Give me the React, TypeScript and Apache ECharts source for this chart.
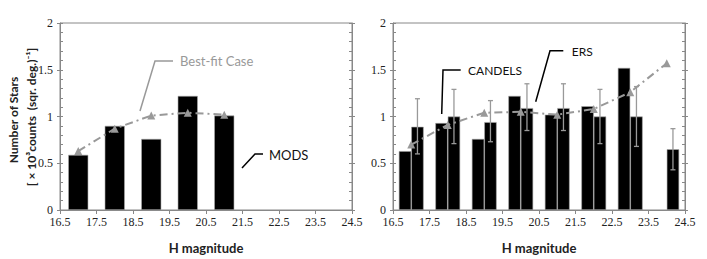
import React, { useEffect, useRef } from "react";
import * as echarts from "echarts";

const categories = ["17", "18", "19", "20", "21", "22", "23", "24"];
const xTickLabels = ["16.5", "17.5", "18.5", "19.5", "20.5", "21.5", "22.5", "23.5", "24.5"];

const modsValues = [0.59, 0.9, 0.76, 1.22, 1.01, null, null, null];
const modsFit = [0.63, 0.87, 1.01, 1.04, 1.02, null, null, null];

const candelsValues = [0.63, 0.93, 0.76, 1.22, 1.02, 1.11, 1.52, null];
const ersValues = [0.89, 1.0, 0.94, 1.09, 1.09, 1.0, 1.0, 0.65];
const ersLow = [0.6, 0.71, 0.73, 0.85, 0.85, 0.71, 0.68, 0.43];
const ersHigh = [1.19, 1.29, 1.17, 1.35, 1.35, 1.29, 1.32, 0.87];
const combinedFit = [0.7, 0.91, 1.04, 1.05, 1.02, 1.08, 1.26, 1.57];

const GRAY = "#888";
const SERIF = "Liberation Serif";
const SANS = "Lato";

function xAxes(g: number) {
  return [
    { gridIndex: g, type: "category", position: "bottom", data: categories, boundaryGap: true, show: false },
    {
      gridIndex: g,
      type: "value",
      position: "bottom",
      min: 0,
      max: 8,
      interval: 1,
      axisLine: { show: true, lineStyle: { color: GRAY, width: 1 } },
      axisTick: { show: true, length: 4, lineStyle: { color: GRAY } },
      splitLine: { show: false },
      axisLabel: {
        formatter: (v: number) => xTickLabels[Math.round(v)] ?? "",
        fontFamily: SERIF,
        fontSize: 12,
        color: "#222",
        margin: 6,
      },
      name: "H magnitude",
      nameLocation: "middle",
      nameGap: 31,
      nameTextStyle: { fontFamily: SANS, fontWeight: "bold", fontSize: 13, color: "#222" },
    },
  ];
}

function yAxes(g: number) {
  const base = { gridIndex: g, type: "value", min: 0, max: 2, interval: 0.5, splitLine: { show: false } };
  return [
    {
      ...base,
      position: "left",
      axisLine: { show: true, lineStyle: { color: GRAY } },
      axisTick: { show: true, length: 3, lineStyle: { color: GRAY } },
      axisLabel: { fontFamily: SERIF, fontSize: 12, color: "#222", margin: 7 },
    },
    {
      ...base,
      position: "left",
      offset: 0,
      axisLine: { show: false },
      axisTick: { show: true, inside: true, length: 3, lineStyle: { color: GRAY } },
      minorTick: { show: true, splitNumber: 5, length: 3, lineStyle: { color: GRAY } },
      axisLabel: { show: false },
    },
    {
      ...base,
      position: "right",
      axisLine: { show: true, lineStyle: { color: GRAY } },
      axisTick: { show: true, length: 3, lineStyle: { color: GRAY } },
      axisLabel: { show: false },
    },
    {
      ...base,
      position: "right",
      offset: 0,
      axisLine: { show: false },
      axisTick: { show: true, inside: true, length: 3, lineStyle: { color: GRAY } },
      minorTick: { show: true, splitNumber: 5, length: 3, lineStyle: { color: GRAY } },
      axisLabel: { show: false },
    },
  ];
}

const fitLine = (data: (number | null)[], xi: number, yi: number) => ({
  type: "line",
  xAxisIndex: xi,
  yAxisIndex: yi,
  data,
  z: 5,
  symbol: "triangle",
  symbolSize: 8,
  itemStyle: { color: "#999" },
  lineStyle: { color: "#999", width: 2, type: [8, 4, 2, 4] },
});

const callout = (pts: number[][], color: string) => ({
  type: "polyline",
  shape: { points: pts },
  style: { stroke: color, lineWidth: 1.5, fill: null },
});

const label = (x: number, y: number, text: string, color: string, size: number) => ({
  type: "text",
  x,
  y,
  style: {
    text,
    fill: color,
    fontFamily: SANS,
    fontSize: size,
    align: "left",
    textAlign: "left",
    verticalAlign: "middle",
    textVerticalAlign: "middle",
  },
});

export default function App() {
  const ref = useRef<HTMLDivElement>(null);
  useEffect(() => {
    if (!ref.current) return;
    const chart = echarts.init(ref.current, null, { renderer: "svg" });
    const errData = ersLow.map((lo, i) => [i, lo, ersHigh[i]]);
    chart.setOption({
      animation: false,
      backgroundColor: "#fff",
      grid: [
        { left: 60, top: 23, width: 292, height: 189, show: true, borderColor: GRAY, borderWidth: 1 },
        { left: 393, top: 23, width: 292, height: 189, show: true, borderColor: GRAY, borderWidth: 1 },
      ],
      xAxis: [...xAxes(0), ...xAxes(1)],
      yAxis: [...yAxes(0), ...yAxes(1)],
      series: [
        {
          type: "bar",
          xAxisIndex: 0,
          yAxisIndex: 0,
          data: modsValues,
          barWidth: "55%",
          z: 2,
          itemStyle: { color: "#000", borderColor: "#aaa", borderWidth: 0.6 },
        },
        fitLine(modsFit, 0, 0),
        {
          type: "bar",
          xAxisIndex: 2,
          yAxisIndex: 4,
          data: candelsValues,
          barWidth: "34%",
          barGap: "0%",
          z: 2,
          itemStyle: { color: "#000", borderColor: "#aaa", borderWidth: 0.6 },
        },
        {
          type: "bar",
          xAxisIndex: 2,
          yAxisIndex: 4,
          data: ersValues,
          barWidth: "34%",
          barGap: "0%",
          z: 2,
          itemStyle: { color: "#000", borderColor: "#aaa", borderWidth: 0.6 },
        },
        {
          type: "custom",
          xAxisIndex: 2,
          yAxisIndex: 4,
          z: 3,
          data: errData,
          renderItem: (params: any, api: any) => {
            const i = api.value(0);
            const lo = api.coord([i, api.value(1)]);
            const hi = api.coord([i, api.value(2)]);
            const band = api.size([1, 0])[0];
            const x = lo[0] + band * 0.17;
            const cap = 2.5;
            const st = { stroke: "#999", lineWidth: 1.3 };
            return {
              type: "group",
              children: [
                { type: "line", shape: { x1: x, y1: lo[1], x2: x, y2: hi[1] }, style: st },
                { type: "line", shape: { x1: x - cap, y1: lo[1], x2: x + cap, y2: lo[1] }, style: st },
                { type: "line", shape: { x1: x - cap, y1: hi[1], x2: x + cap, y2: hi[1] }, style: st },
              ],
            };
          },
        },
        fitLine(combinedFit, 2, 4),
      ],
      graphic: [
        {
          type: "text",
          x: 13,
          y: 120,
          rotation: Math.PI / 2,
          style: {
            text: "Number of Stars",
            fill: "#222",
            fontFamily: SANS,
            fontWeight: "bold",
            fontSize: 12,
            align: "center",
            textAlign: "center",
            verticalAlign: "middle",
            textVerticalAlign: "middle",
          },
        },
        {
          type: "text",
          x: 31,
          y: 117,
          rotation: Math.PI / 2,
          style: {
            text: "[ × 10³counts  (sqr. deg.)⁻¹]",
            fill: "#222",
            fontFamily: SANS,
            fontWeight: "bold",
            fontSize: 12,
            align: "center",
            textAlign: "center",
            verticalAlign: "middle",
            textVerticalAlign: "middle",
          },
        },
        callout([[140, 111], [155, 61], [173, 61]], "#999"),
        label(180, 61, "Best-fit Case", "#999", 13),
        callout([[242, 168], [255, 154], [263, 154]], "#000"),
        label(269, 155, "MODS", "#111", 13),
        callout([[441.7, 114], [443, 70], [460.7, 70]], "#000"),
        label(468, 70, "CANDELS", "#111", 12),
        callout([[535.7, 101.7], [550, 50.7], [563.3, 50.7]], "#000"),
        label(571.7, 51, "ERS", "#111", 12),
      ],
    });
    return () => chart.dispose();
  }, []);
  return (
    <div
      ref={ref}
      style={{ position: "absolute", left: 0, top: 0, width: 707, height: 259, background: "#fff" }}
    />
  );
}
